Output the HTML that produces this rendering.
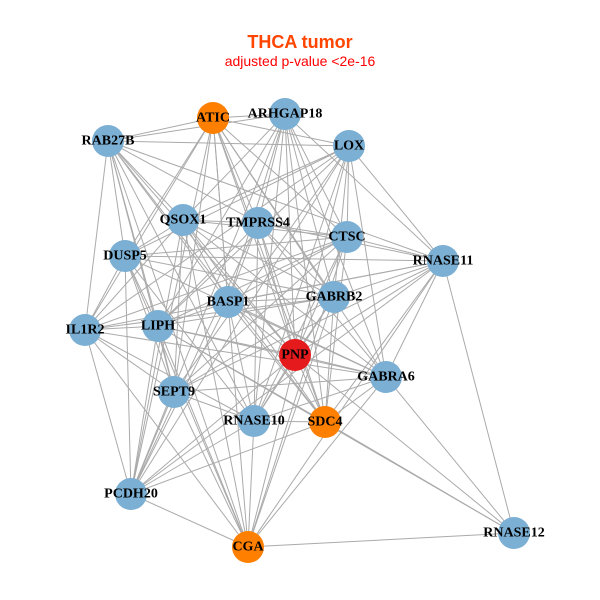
<!DOCTYPE html>
<html><head><meta charset="utf-8"><style>
html,body{margin:0;padding:0;background:#fff;}
svg{display:block;}
.l{font-family:"Liberation Serif",serif;font-weight:bold;font-size:14px;fill:#000;text-anchor:middle;dominant-baseline:central;}
</style></head><body>
<svg id="s" width="600" height="600" viewBox="0 0 600 600">
<text x="300" y="48" text-anchor="middle" font-family="Liberation Sans, sans-serif" font-weight="bold" font-size="18" fill="#ff4500">THCA tumor</text>
<text x="300" y="66" text-anchor="middle" font-family="Liberation Sans, sans-serif" font-size="14" fill="#ff0000">adjusted p-value &lt;2e-16</text>
<g id="edges" stroke="#aaaaaa" stroke-width="1"></g>
<g id="nodes"></g>
<g>
<text class="l" x="213" y="118">ATIC</text>
<text class="l" x="285" y="114">ARHGAP18</text>
<text class="l" x="108" y="141">RAB27B</text>
<text class="l" x="349" y="146">LOX</text>
<text class="l" x="183" y="220">QSOX1</text>
<text class="l" x="258" y="223">TMPRSS4</text>
<text class="l" x="347" y="237">CTSC</text>
<text class="l" x="125" y="256">DUSP5</text>
<text class="l" x="443" y="261">RNASE11</text>
<text class="l" x="228" y="302">BASP1</text>
<text class="l" x="334" y="297">GABRB2</text>
<text class="l" x="85" y="330">IL1R2</text>
<text class="l" x="158" y="326">LIPH</text>
<text class="l" x="295" y="355">PNP</text>
<text class="l" x="386" y="377">GABRA6</text>
<text class="l" x="174" y="392">SEPT9</text>
<text class="l" x="254" y="421">RNASE10</text>
<text class="l" x="325" y="422">SDC4</text>
<text class="l" x="131" y="494">PCDH20</text>
<text class="l" x="248" y="547">CGA</text>
<text class="l" x="514" y="533">RNASE12</text>
</g>
</svg>
<script>
var N=[[213,118,"#ff8000"],[285,114],[108,141],[349,146],[183,220],[258,223],[347,237],[125,256],[443,261],[228,302],[334,297],[85,330],[158,326],[295,355,"#e41a1c"],[386,377],[174,392],[254,421],[325,422,"#ff8000"],[131,494],[248,547,"#ff8000"],[514,533]];
var ns="http://www.w3.org/2000/svg",E=document.getElementById("edges"),G=document.getElementById("nodes");
function line(a,b){var l=document.createElementNS(ns,"line");l.setAttribute("x1",N[a][0]);l.setAttribute("y1",N[a][1]);l.setAttribute("x2",N[b][0]);l.setAttribute("y2",N[b][1]);E.appendChild(l);}
for(var i=0;i<20;i++)for(var j=i+1;j<20;j++){if((i*7+j*3)%4==0)continue;line(i,j);}
[8,14,19,17,12,13].forEach(function(a){line(a,20);});
N.forEach(function(n){var c=document.createElementNS(ns,"circle");c.setAttribute("cx",n[0]);c.setAttribute("cy",n[1]);c.setAttribute("r",16);c.setAttribute("fill",n[2]||"#7bafd4");G.appendChild(c);});
</script>
</body></html>
